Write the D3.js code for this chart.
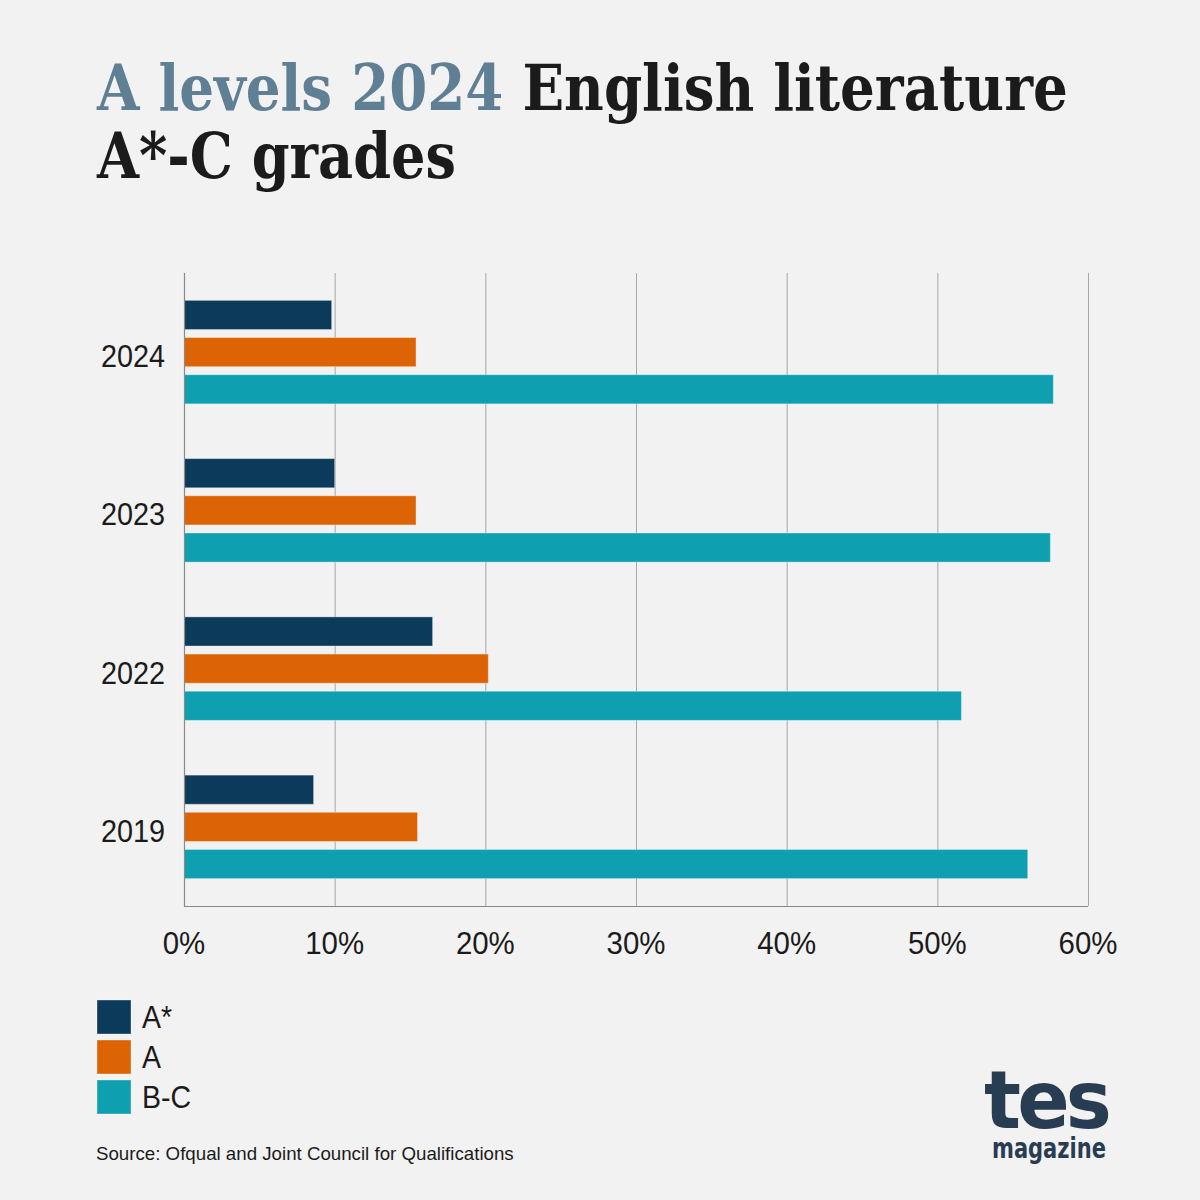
<!DOCTYPE html>
<html><head><meta charset="utf-8">
<script src="https://cdn.jsdelivr.net/npm/d3@7"></script>
<style>html,body{margin:0;padding:0;background:#f2f2f2;}svg{display:block;}</style>
</head><body>
<svg id="chart" width="1200" height="1200"></svg>
<script>
const years = ["2024", "2023", "2022", "2019"];
const series = ["A*", "A", "B-C"];
const valuesAStar = [9.8, 10.0, 16.5, 8.6];
const valuesA = [15.4, 15.4, 20.2, 15.5];
const valuesBC = [57.7, 57.5, 51.6, 56.0];
const xTicks = [0, 10, 20, 30, 40, 50, 60];
const colors = ["#0b3a5b", "#dd6404", "#0ea0b0"];
const titleLine1a = "A levels 2024";
const titleLine1b = " English literature";
const titleLine2 = "A*-C grades";
const sourceText = "Source: Ofqual and Joint Council for Qualifications";

const seriesValues = [valuesAStar, valuesA, valuesBC];
const data = years.map((y, i) => ({year: y, vals: series.map((s, j) => ({key: s, value: seriesValues[j][i], idx: j}))}));

const svg = d3.select("#chart");
svg.append("rect").attr("width", 1200).attr("height", 1200).attr("fill", "#f2f2f2");

// horizontal fit helper: scales text about its anchor x
function fitText(sel, target) {
  sel.each(function() {
    const el = d3.select(this);
    const w = this.getComputedTextLength();
    const x0 = +el.attr("x");
    el.attr("transform", `translate(${x0},0) scale(${target / w},1) translate(${-x0},0)`);
  });
}
function squeeze(sel, k) {
  sel.each(function() {
    const el = d3.select(this);
    const x0 = +el.attr("x");
    el.attr("transform", `translate(${x0},0) scale(${k},1) translate(${-x0},0)`);
  });
}

// Title
const serif = "'DejaVu Serif Condensed','Liberation Serif','DejaVu Serif',serif";
const t1 = svg.append("text").attr("x", 97).attr("y", 110)
  .attr("font-family", serif).attr("font-weight", "bold").attr("font-size", 64);
t1.append("tspan").attr("fill", "#5f7f95").text(titleLine1a);
t1.append("tspan").attr("fill", "#1b1b1b").text(titleLine1b);
fitText(t1, 971);
const t2 = svg.append("text").attr("x", 97).attr("y", 178)
  .attr("font-family", serif).attr("font-weight", "bold").attr("font-size", 64)
  .attr("fill", "#1b1b1b").text(titleLine2);
fitText(t2, 359);

// Scales
const x = d3.scaleLinear().domain([0, 60]).range([184, 1088]);
const y = d3.scaleBand().domain(years).range([273, 906]).paddingInner(0.346).paddingOuter(0.173);
const yi = d3.scaleBand().domain(series).range([0, y.bandwidth()]).paddingInner(0.216).paddingOuter(0);

const sans = "'Liberation Sans', Arial, sans-serif";

// Gridlines
svg.append("g").selectAll("line").data(xTicks.slice(1)).join("line")
  .attr("x1", d => x(d) + 0.5).attr("x2", d => x(d) + 0.5)
  .attr("y1", 273).attr("y2", 906)
  .attr("stroke", "#a8a8a8").attr("stroke-width", 1);

// Bars
const g = svg.append("g").selectAll("g").data(data).join("g")
  .attr("transform", d => `translate(0,${y(d.year)})`);
g.selectAll("rect").data(d => d.vals).join("rect")
  .attr("x", x(0)).attr("y", d => yi(d.key))
  .attr("width", d => x(d.value) - x(0)).attr("height", yi.bandwidth())
  .attr("fill", d => colors[d.idx])
  .attr("stroke", "rgba(255,255,255,0.35)").attr("stroke-width", 1);

// Axis lines
svg.append("line").attr("x1", 184.5).attr("x2", 184.5).attr("y1", 273).attr("y2", 906.5)
  .attr("stroke", "#8a8a8a").attr("stroke-width", 1.2);
svg.append("line").attr("x1", 184).attr("x2", 1088).attr("y1", 906.5).attr("y2", 906.5)
  .attr("stroke", "#8a8a8a").attr("stroke-width", 1.2);

// X tick labels
svg.append("g").selectAll("text").data(xTicks).join("text")
  .attr("x", d => x(d)).attr("y", 954).attr("text-anchor", "middle")
  .attr("font-family", sans).attr("font-size", 32).attr("fill", "#1b1b1b")
  .text(d => d + "%")
  .call(squeeze, 0.92);

// Y labels
svg.append("g").selectAll("text").data(years).join("text")
  .attr("x", 165).attr("y", d => y(d) + y.bandwidth() / 2 + 15).attr("text-anchor", "end")
  .attr("font-family", sans).attr("font-size", 32).attr("fill", "#1b1b1b")
  .text(d => d)
  .call(squeeze, 0.9);

// Legend
const lg = svg.append("g").selectAll("g").data(series).join("g")
  .attr("transform", (d, i) => `translate(97,${1000 + i * 40})`);
lg.append("rect").attr("width", 34).attr("height", 34).attr("fill", (d, i) => colors[i])
  .attr("stroke", "rgba(255,255,255,0.35)");
lg.append("text").attr("x", 45).attr("y", 28).attr("font-family", sans).attr("font-size", 31)
  .attr("fill", "#1b1b1b").text(d => d)
  .call(squeeze, 0.92);

// Source
svg.append("text").attr("x", 96).attr("y", 1160).attr("font-family", sans).attr("font-size", 18)
  .attr("fill", "#1b1b1b").text(sourceText)
  .call(fitText, 418);

// Logo
const logo = svg.append("text").attr("x", 984).attr("y", 1128).attr("font-family", "'DejaVu Sans', sans-serif")
  .attr("font-weight", "bold").attr("font-size", 80).attr("fill", "#283d52").attr("letter-spacing", -4).text("tes");
fitText(logo, 124);
const mag = svg.append("text").attr("x", 992).attr("y", 1158).attr("font-family", "'DejaVu Sans Condensed','DejaVu Sans', sans-serif")
  .attr("font-weight", "bold").attr("font-size", 28).attr("fill", "#283d52").text("magazine");
fitText(mag, 114);
</script>
</body></html>
